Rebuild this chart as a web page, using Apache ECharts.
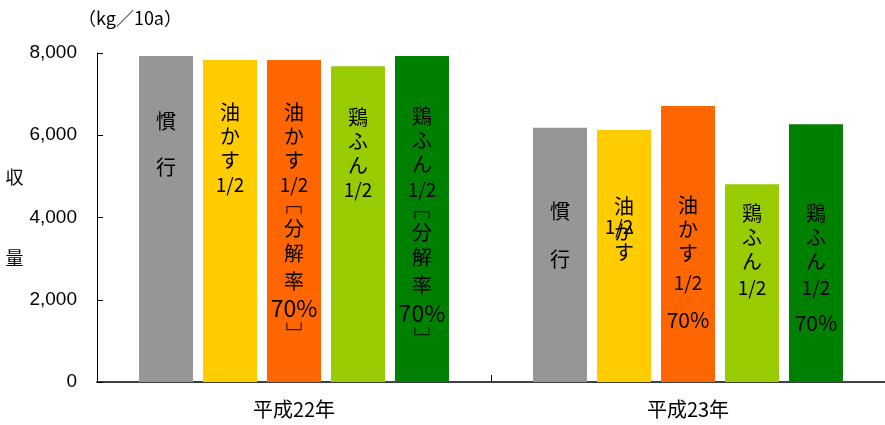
<!DOCTYPE html>
<html><head><meta charset="utf-8">
<script src="https://cdn.jsdelivr.net/npm/echarts@6/dist/echarts.min.js"></script>
<style>html,body{margin:0;padding:0;background:#fff}#c{width:885px;height:425px}</style>
</head><body><div id="c"></div>
<script>
// ---- data ----
const categories = ['平成22年', '平成23年'];
const seriesNames = ['慣行', '油かす1/2', '油かす1/2（分解率70%）', '鶏ふん1/2', '鶏ふん1/2（分解率70%）'];
const kanko = [7930, 6180];
const aburakasu = [7830, 6130];
const aburakasu70 = [7830, 6710];
const keifun = [7680, 4810];
const keifun70 = [7930, 6270];
const yTicks = [0, 2000, 4000, 6000, 8000];
const unitText = '（kg／10a）';
const yName = '収量';

// bar label texts (rich text), per series, per category
const labelTexts = [
  ['{k|慣}\n{k|行}', '{k2|慣}\n{k2|行}'],
  ['{c|油}\n{c|か}\n{c|す}\n{n|1/2}', '{a|油}\n{o|1/2}\n{s|か}\n{t|す}'],
  ['{c|油}\n{c|か}\n{c|す}\n{n|1/2}\n{b|┌─┐}\n{m1|分}\n{m2|解}\n{m3|率}\n{p|70%}\n{e|└─┘}', '{c|油}\n{c|か}\n{c|す}\n{n2|1/2}\n{p2|70%}'],
  ['{c|鶏}\n{c|ふ}\n{c|ん}\n{n|1/2}', '{c|鶏}\n{c|ふ}\n{c|ん}\n{n3|1/2}'],
  ['{c|鶏}\n{c|ふ}\n{c|ん}\n{n|1/2}\n{b|┌─┐}\n{m1|分}\n{m2|解}\n{m3|率}\n{p|70%}\n{e|└─┘}', '{c|鶏}\n{c|ふ}\n{c|ん}\n{n3|1/2}\n{p3|70%}']
];
// ---- styles ----
const labelDistances = [[43, 60], [40, 58], [40, 87], [39, 17], [49, 77]];
const colors = ['#969696', '#FFCC00', '#FF6600', '#99CC00', '#008000'];
const JP = '"Noto Sans CJK JP", sans-serif';
const MONO = '"DejaVu Sans Mono", monospace';
const rich = {
  k: {fontSize: 20, lineHeight: 46},
  k2: {fontSize: 20, lineHeight: 48},
  c: {fontSize: 20, lineHeight: 24},
  n: {fontSize: 19, lineHeight: 26},
  b: {fontSize: 12, lineHeight: 20, fontFamily: MONO},
  m1: {fontSize: 20, lineHeight: 20},
  m2: {fontSize: 20, lineHeight: 30},
  m3: {fontSize: 20, lineHeight: 26},
  p: {fontSize: 23, lineHeight: 28},
  e: {fontSize: 12, lineHeight: 18, fontFamily: MONO},
  a: {fontSize: 20, lineHeight: 38},
  o: {fontSize: 19, lineHeight: 1, padding: [0, 10, 0, 0]},
  s: {fontSize: 20, lineHeight: 12},
  t: {fontSize: 20, lineHeight: 28},
  n2: {fontSize: 19, lineHeight: 36},
  p2: {fontSize: 21, lineHeight: 38},
  n3: {fontSize: 19, lineHeight: 30},
  p3: {fontSize: 21, lineHeight: 40}
};
Object.values(rich).forEach(r => { if (!r.fontFamily) r.fontFamily = JP; r.color = '#000'; });

const values = [kanko, aburakasu, aburakasu70, keifun, keifun70];

const chart = echarts.init(document.getElementById('c'), null, {renderer: 'canvas'});
chart.setOption({
  animation: false,
  backgroundColor: '#fff',
  title: {
    text: unitText, left: 78, top: 9, padding: 0,
    textStyle: {fontSize: 18, fontWeight: 'normal', color: '#000', fontFamily: JP}
  },
  grid: {left: 97, right: -4, top: 53, bottom: 43, containLabel: false},
  xAxis: {
    type: 'category', data: categories,
    axisLine: {lineStyle: {color: '#404040', width: 2}},
    axisTick: {show: true, inside: true, length: 7, lineStyle: {color: '#000', width: 1}},
    axisLabel: {fontSize: 20, color: '#000', fontFamily: JP, margin: 17}
  },
  yAxis: {
    type: 'value', min: yTicks[0], max: yTicks[yTicks.length - 1], interval: 2000,
    name: yName.split('').join('\n\n\n'),
    nameLocation: 'middle', nameRotate: 0, nameGap: 79,
    nameTextStyle: {fontSize: 18, color: '#000', fontFamily: JP, lineHeight: 27, align: 'center', verticalAlign: 'middle'},
    axisLine: {show: true, lineStyle: {color: '#000', width: 1}},
    axisTick: {show: true, inside: true, length: 6, lineStyle: {color: '#000'}},
    splitLine: {show: false},
    axisLabel: {
      fontSize: 19, color: '#000', fontFamily: '"Liberation Sans", Arial, sans-serif', margin: 20,
      formatter: v => v.toLocaleString('en-US')
    }
  },
  series: values.map((vals, si) => ({
    name: seriesNames[si],
    type: 'bar',
    barWidth: 54,
    barGap: '18.5%',
    itemStyle: {color: colors[si]},
    label: {show: true, position: 'insideTop', rich: rich, color: '#000'},
    data: vals.map((v, ci) => ({
      value: v,
      label: {formatter: labelTexts[si][ci], distance: labelDistances[si][ci]}
    }))
  }))
});
</script></body></html>
